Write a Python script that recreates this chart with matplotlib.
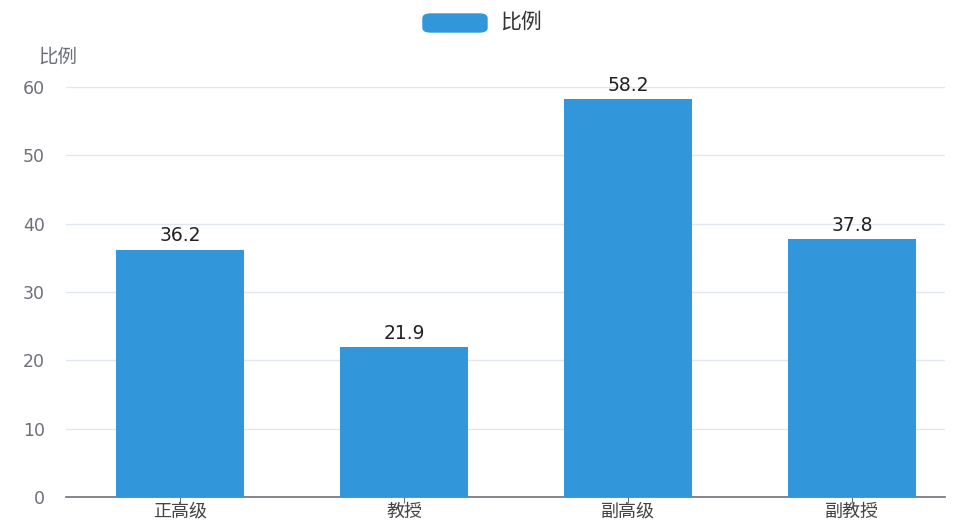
import matplotlib
matplotlib.use("Agg")
import matplotlib.pyplot as plt
from matplotlib.patches import FancyBboxPatch
from matplotlib.transforms import blended_transform_factory

plt.rcParams['font.family'] = ['Noto Sans CJK SC', 'DejaVu Sans']

categories = ['正高级', '教授', '副高级', '副教授']
values = [36.2, 21.9, 58.2, 37.8]
yticks = [0, 10, 20, 30, 40, 50, 60]
series_name = '比例'

bar_color = '#3296DA'
axis_gray = '#6E7079'
grid_color = '#E0E6F1'

fig = plt.figure(figsize=(9.54, 5.22), dpi=100)
ax = fig.add_axes([0.069, 0.048, 0.9216, 0.7855])

x = range(len(categories))
bars = ax.bar(x, values, width=0.571, color=bar_color, zorder=3)
for b, v in zip(bars, values):
    ax.text(b.get_x() + b.get_width() / 2, v + 0.6, '%.1f' % v,
            ha='center', va='bottom', fontsize=13.5, color='#222222',
            family='DejaVu Sans')

# category spacing in the reference is a little wider than the axis
ax.set_xlim(-0.509, 3.415)
ax.set_ylim(0, 60)
ax.set_yticks(yticks)
ax.set_yticklabels([str(t) for t in yticks], family='DejaVu Sans')
ax.set_xticks(list(x))
ax.set_xticklabels([])
ax.tick_params(axis='y', length=0, labelsize=12.5, labelcolor=axis_gray, pad=15)
ax.tick_params(axis='x', length=4, color=axis_gray)
ax.grid(axis='y', color=grid_color, linewidth=1, zorder=0)
for s in ['top', 'right', 'left']:
    ax.spines[s].set_visible(False)
ax.spines['bottom'].set_color(axis_gray)
ax.spines['bottom'].set_linewidth(1.2)

# category labels sit right at the bottom edge, so pin them there
trans = blended_transform_factory(ax.transData, fig.transFigure)
for i, c in enumerate(categories):
    ax.text(i, 1 / 522, c, transform=trans, ha='center', va='bottom',
            fontsize=13, color='#444444')

# axis name
fig.text(38 / 954, 1 - 57 / 522, series_name, fontsize=14, color=axis_gray,
         ha='left', va='center')

# legend
leg = FancyBboxPatch((423 / 954, 1 - 32 / 522), 64 / 954, 18 / 522,
                     boxstyle='round,pad=0,rounding_size=0.008',
                     transform=fig.transFigure, color=bar_color)
fig.patches.append(leg)
fig.text(500 / 954, 1 - 22 / 522, series_name, fontsize=15, color='#333333',
         ha='left', va='center')

fig.savefig('out.png', dpi=100)
